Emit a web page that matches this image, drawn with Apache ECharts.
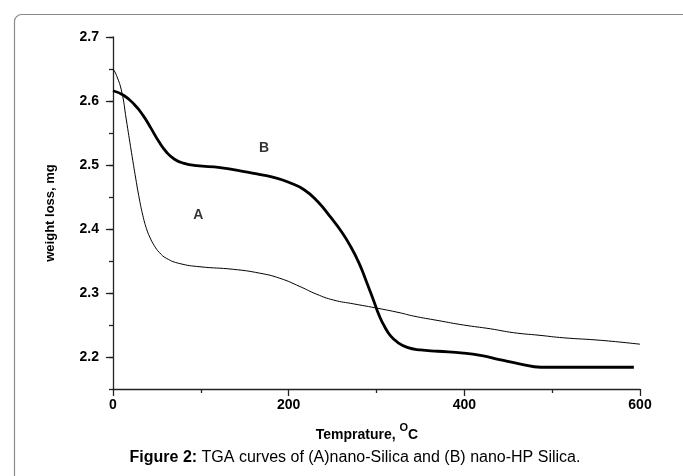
<!DOCTYPE html>
<html>
<head>
<meta charset="utf-8">
<title>TGA curves</title>
<script src="https://cdn.jsdelivr.net/npm/echarts@6/dist/echarts.min.js"></script>
<style>
  html, body { margin: 0; padding: 0; background: #ffffff; }
  #chart { width: 683px; height: 476px; }
</style>
</head>
<body>
<div id="chart"></div>
<script>
// Curve A: nano-Silica (temperature in °C, weight in mg)
const tempA = [0, 4, 10, 15, 21, 26, 30, 34, 38, 42, 47, 53, 61, 76, 99, 137, 167, 190, 213, 232, 251, 274, 298, 327, 342, 370, 399, 430, 456, 485, 513, 556, 600];
const weightA = [2.650, 2.640, 2.614, 2.572, 2.520, 2.478, 2.447, 2.421, 2.401, 2.387, 2.374, 2.363, 2.354, 2.346, 2.341, 2.337, 2.331, 2.323, 2.310, 2.298, 2.289, 2.283, 2.277, 2.269, 2.264, 2.257, 2.250, 2.244, 2.238, 2.234, 2.230, 2.226, 2.220];

// Curve B: nano-HP Silica
const tempB = [0, 12, 24, 34, 43, 52, 61, 70, 80, 95, 122, 153, 168, 185, 200, 218, 233, 248, 259, 270, 280, 289, 297, 303, 309, 316, 324, 335, 350, 370, 399, 420, 440, 464, 487, 520, 560, 593];
const weightB = [2.616, 2.609, 2.595, 2.578, 2.558, 2.537, 2.520, 2.509, 2.503, 2.499, 2.496, 2.489, 2.485, 2.480, 2.473, 2.461, 2.443, 2.418, 2.398, 2.374, 2.347, 2.316, 2.287, 2.265, 2.248, 2.233, 2.223, 2.215, 2.211, 2.209, 2.206, 2.202, 2.196, 2.189, 2.184, 2.184, 2.184, 2.184];

// Curve tags placed inside the plot
const curveTags = ['A', 'B'];
const tagTemps = [97, 172];
const tagWeights = [2.421, 2.526];

// Tick labels
const yMajorTicks = [2.2, 2.3, 2.4, 2.5, 2.6, 2.7];

const xTitle = 'Temprature, ';
const yTitle = 'weight loss, mg';
const captionBold = 'Figure 2:';
const captionText = ' TGA curves of (A)nano-Silica and (B) nano-HP Silica.';

const pairs = (xs, ys) => xs.map((x, i) => [x, ys[i]]);

const FONT = '"Liberation Sans", Arial, sans-serif';
const AXIS_COLOR = '#222';

const chart = echarts.init(document.getElementById('chart'), null, { renderer: 'canvas' });

chart.setOption({
  backgroundColor: '#ffffff',
  animation: false,
  grid: { left: 113, right: 43, top: 37, bottom: 87, containLabel: false },
  xAxis: {
    type: 'value',
    min: 0,
    max: 600,
    interval: 200,
    axisLine: { show: true, onZero: false, lineStyle: { color: AXIS_COLOR, width: 1.3 } },
    axisTick: { show: true, length: 7, lineStyle: { color: AXIS_COLOR, width: 1.3 } },
    minorTick: { show: true, splitNumber: 2, length: 4, lineStyle: { color: AXIS_COLOR, width: 1.3 } },
    splitLine: { show: false },
    minorSplitLine: { show: false },
    axisLabel: { color: '#000', fontFamily: FONT, fontWeight: 'bold', fontSize: 14, margin: 9 }
  },
  yAxis: [
    {
      type: 'value',
      min: 2.15,
      max: 2.7,
      position: 'left',
      axisLine: { show: true, onZero: false, lineStyle: { color: AXIS_COLOR, width: 1.3 } },
      axisTick: { show: true, length: 7, customValues: yMajorTicks, lineStyle: { color: AXIS_COLOR, width: 1.3 } },
      splitLine: { show: false },
      axisLabel: {
        customValues: yMajorTicks,
        color: '#000', fontFamily: FONT, fontWeight: 'bold', fontSize: 14, margin: 14,
        formatter: v => v.toFixed(1)
      },
      name: yTitle,
      nameLocation: 'middle',
      nameRotate: 90,
      nameGap: 56,
      nameTextStyle: { color: '#000', fontFamily: FONT, fontWeight: 'bold', fontSize: 13 }
    },
    {
      // half-step ticks every 0.05 mg
      type: 'value',
      min: 2.15,
      max: 2.7,
      interval: 0.05,
      position: 'left',
      axisLine: { show: false },
      axisTick: { show: true, length: 4, lineStyle: { color: AXIS_COLOR, width: 1.3 } },
      axisLabel: { show: false },
      splitLine: { show: false }
    }
  ],
  series: [
    {
      name: 'A',
      type: 'line',
      data: pairs(tempA, weightA),
      smooth: 0.5,
      symbol: 'none',
      lineStyle: { color: '#000', width: 1 },
      z: 3
    },
    {
      name: 'B',
      type: 'line',
      data: pairs(tempB, weightB),
      smooth: 0.5,
      symbol: 'none',
      lineStyle: { color: '#000', width: 2.8 },
      z: 4
    },
    {
      name: 'tags',
      type: 'scatter',
      symbolSize: 0,
      silent: true,
      data: curveTags.map((t, i) => ({ name: t, value: [tagTemps[i], tagWeights[i]] })),
      label: {
        show: true,
        position: 'inside',
        formatter: p => p.name,
        color: '#000',
        fontFamily: FONT,
        fontWeight: 'bold',
        fontSize: 14
      },
      z: 5
    }
  ],
  graphic: [
    {
      type: 'rect',
      left: 12,
      top: 12,
      shape: { width: 720, height: 520, r: 7 },
      style: { fill: 'none', stroke: '#8a8a8a', lineWidth: 1.2 },
      silent: true,
      z: -1
    },
    {
      type: 'text',
      x: 367,
      y: 432,
      style: {
        text: '{t|' + xTitle + '}{s|O}{t|C}',
        align: 'center',
        verticalAlign: 'middle',
        fill: '#000',
        rich: {
          t: { fontFamily: FONT, fontWeight: 'bold', fontSize: 14, lineHeight: 20, verticalAlign: 'bottom' },
          s: { fontFamily: FONT, fontWeight: 'bold', fontSize: 11, lineHeight: 20, verticalAlign: 'top' }
        }
      }
    },
    {
      type: 'text',
      x: 355,
      y: 458,
      style: {
        text: '{b|' + captionBold + '}{n|' + captionText + '}',
        align: 'center',
        verticalAlign: 'middle',
        fill: '#000',
        rich: {
          b: { fontFamily: FONT, fontWeight: 'bold', fontSize: 16 },
          n: { fontFamily: FONT, fontSize: 16 }
        }
      }
    }
  ]
});
</script>
</body>
</html>
